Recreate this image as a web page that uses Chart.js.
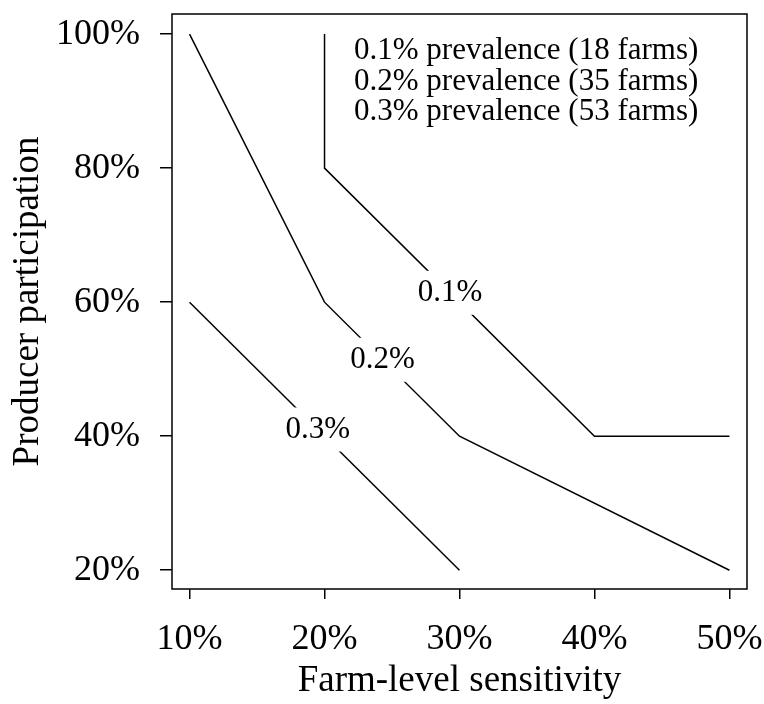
<!DOCTYPE html>
<html>
<head>
<meta charset="utf-8">
<script src="https://cdn.jsdelivr.net/npm/chart.js@4"></script>
<style>
  html,body{margin:0;padding:0;background:#fff;}
  #wrap{width:764px;height:704px;}
</style>
</head>
<body>
<div id="wrap"><canvas id="c"></canvas></div>
<script>
// farm-level sensitivity (%) vs producer participation (%) needed, per prevalence
const sens01 = [20, 20, 40, 50];
const part01 = [100, 80, 40, 40];
const sens02 = [10, 20, 30, 50];
const part02 = [100, 60, 40, 20];
const sens03 = [10, 30];
const part03 = [60, 20];

const lineNames = ["0.1%", "0.2%", "0.3%"];
// where each in-line label sits (data units)
const labelSens = [29.3, 24.3, 19.5];
const labelPart = [61.4, 51.4, 41.0];

const legendText = [
  "0.1% prevalence (18 farms)",
  "0.2% prevalence (35 farms)",
  "0.3% prevalence (53 farms)"
];

const xTicks = [10, 20, 30, 40, 50];
const yTicks = [20, 40, 60, 80, 100];

const FONT = "'Liberation Serif', 'Times New Roman', serif";

const pts = (xs, ys)=> xs.map((x,i)=>({x, y: ys[i]}));

const ds = (name, xs, ys)=>({
  label: name,
  data: pts(xs, ys),
  showLine: true,
  borderColor: "#000",
  borderWidth: 1.5,
  pointRadius: 0,
  fill: false,
  tension: 0
});

// frame box + contour labels with white knock-out + text legend
const extras = {
  id: "extras",
  afterDatasetsDraw(chart){
    const {ctx, chartArea: a, scales:{x, y}} = chart;
    ctx.save();
    ctx.font = "31px " + FONT;
    ctx.textAlign = "center";
    ctx.textBaseline = "middle";
    for (let i=0;i<lineNames.length;i++){
      const px = x.getPixelForValue(labelSens[i]);
      const py = y.getPixelForValue(labelPart[i]);
      const w = ctx.measureText(lineNames[i]).width;
      ctx.fillStyle = "#fff";
      ctx.fillRect(px - w/2 - 3, py - 22, w + 6, 44);
      ctx.fillStyle = "#000";
      ctx.fillText(lineNames[i], px, py);
    }
    ctx.textAlign = "left";
    ctx.textBaseline = "alphabetic";
    legendText.forEach((t,i)=> ctx.fillText(t, 354, 59 + i*30.5));

    ctx.strokeStyle = "#000";
    ctx.lineWidth = 1.5;
    ctx.strokeRect(a.left, a.top, a.right - a.left, a.bottom - a.top);
    ctx.restore();
  }
};

new Chart(document.getElementById("c"), {
  type: "scatter",
  data: {
    datasets: [
      ds(lineNames[0], sens01, part01),
      ds(lineNames[1], sens02, part02),
      ds(lineNames[2], sens03, part03)
    ]
  },
  options: {
    responsive: true,
    maintainAspectRatio: false,
    animation: false,
    devicePixelRatio: 1,
    layout: { padding: { left: 0, right: 17, top: 14, bottom: 0 } },
    plugins: { legend: { display: false }, tooltip: { enabled: false } },
    scales: {
      x: {
        type: "linear",
        min: 8.7, max: 51.3,
        afterBuildTicks: s => { s.ticks = xTicks.map(v=>({value:v})); },
        afterFit: s => { s.height = 115; s.paddingLeft = 0; s.paddingRight = 0; },
        grid: { display: true, drawOnChartArea: false, drawTicks: true, tickLength: 10, color: "#000", lineWidth: 1.5 },
        border: { display: false },
        ticks: { color: "#000", padding: 19, maxRotation: 0, font: { family: FONT, size: 36 }, callback: v => v + "%" },
        title: { display: true, text: "Farm-level sensitivity", color: "#000", font: { family: FONT, size: 37 }, padding: { top: 0, bottom: 1 } }
      },
      y: {
        type: "linear",
        min: 17.2, max: 103,
        afterBuildTicks: s => { s.ticks = yTicks.map(v=>({value:v})); },
        afterFit: s => { s.width = 172; s.paddingTop = 0; s.paddingBottom = 0; },
        grid: { display: true, drawOnChartArea: false, drawTicks: true, tickLength: 12, color: "#000", lineWidth: 1.5 },
        border: { display: false },
        ticks: { color: "#000", padding: 20, font: { family: FONT, size: 36 }, callback: v => v + "%" },
        title: { display: true, text: "Producer participation", color: "#000", font: { family: FONT, size: 37 }, padding: { top: 6, bottom: 0 } }
      }
    }
  },
  plugins: [extras]
});
</script>
</body>
</html>
